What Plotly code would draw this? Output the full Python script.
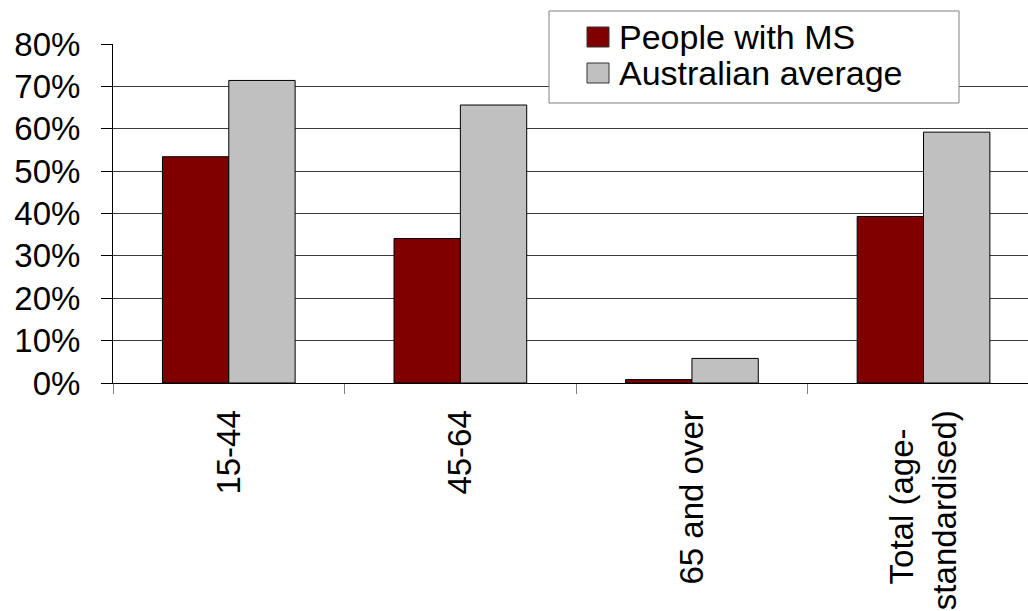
import plotly.graph_objects as go

# Employment rates by age group
categories = ["15-44", "45-64", "65 and over", "Total (age-\u00a0\u00a0<br>standardised)"]
ms_values = [0.534, 0.341, 0.008, 0.393]
aus_values = [0.714, 0.656, 0.058, 0.592]
series_names = ["People with MS", "Australian average"]
y_ticks = [0, 0.1, 0.2, 0.3, 0.4, 0.5, 0.6, 0.7, 0.8]
y_labels = ["0%", "10%", "20%", "30%", "40%", "50%", "60%", "70%", "80%"]

RED = "#800000"
GREY = "#C0C0C0"
FONT = "Liberation Sans, Arial, sans-serif"

W, H = 1028, 611
ML, MR, MT, MB = 113, 0, 44, 228
PW, PH = W - ML - MR, H - MT - MB


def px(x):
    return (x - ML) / PW


def py(y):
    return (H - MB - y) / PH


fig = go.Figure()
fig.add_trace(go.Bar(x=categories, y=ms_values, name=series_names[0],
                     marker=dict(color=RED, line=dict(color="black", width=1)),
                     showlegend=False))
fig.add_trace(go.Bar(x=categories, y=aus_values, name=series_names[1],
                     marker=dict(color=GREY, line=dict(color="black", width=1)),
                     showlegend=False))

# legend box drawn by hand so the swatches are full-size
shapes = [
    dict(type="rect", xref="paper", yref="paper", x0=px(549), x1=px(959),
         y0=py(103), y1=py(11), fillcolor="white",
         line=dict(color="#808080", width=1), layer="above"),
]
annotations = []
for i, (name, col) in enumerate(zip(series_names, [RED, GREY])):
    cy = 37 + i * 36
    shapes.append(dict(type="rect", xref="paper", yref="paper",
                       x0=px(587), x1=px(609), y0=py(cy + 10), y1=py(cy - 10),
                       fillcolor=col, line=dict(color="#333333", width=1),
                       layer="above"))
    annotations.append(dict(x=px(617), y=py(cy), xref="paper", yref="paper",
                            text=name, showarrow=False, xanchor="left",
                            yanchor="middle",
                            font=dict(family=FONT, size=34, color="black")))

fig.update_layout(
    width=W, height=H,
    margin=dict(l=ML, r=MR, t=MT, b=MB, pad=0),
    paper_bgcolor="white", plot_bgcolor="white",
    barmode="group", bargap=0.427, bargroupgap=0,
    font=dict(family=FONT, color="black"),
    shapes=shapes, annotations=annotations,
    showlegend=False,
)
fig.update_xaxes(
    type="category", range=[-0.5, 3.5 - 11.3 / 231.6],
    tickangle=-90, tickfont=dict(size=33, family=FONT),
    ticks="outside", tickson="boundaries", ticklen=10, tickcolor="#808080",
    showline=True, linecolor="black", linewidth=1,
    showgrid=False, ticklabelstandoff=13,
)
fig.update_yaxes(
    range=[0, 0.8], tickvals=y_ticks, ticktext=y_labels,
    tickfont=dict(size=33, family=FONT),
    ticks="outside", ticklen=11, tickcolor="black",
    showline=True, linecolor="black", linewidth=1,
    showgrid=True, gridcolor="#3a3a3a", gridwidth=1,
    zeroline=False, ticklabelstandoff=14,
)

fig.write_html("out.html")
